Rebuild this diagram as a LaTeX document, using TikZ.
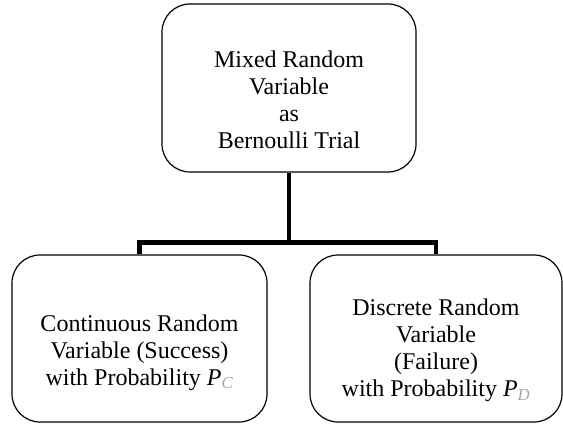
\documentclass[tikz,border=0pt]{standalone}
\usepackage{fontspec}
\setmainfont{Liberation Serif}
\definecolor{subgray}{RGB}{165,165,165}

\begin{document}
\begin{tikzpicture}[x=1pt, y=-1pt,
    box/.style={draw, line width=1.2pt, rounded corners=28pt},
    boxtext/.style={align=center, inner sep=0pt, font=\fontsize{24}{27}\selectfont},
    link/.style={line width=4.5pt, line cap=butt, line join=miter}]
  \useasboundingbox (0,0) rectangle (563,425);
  % P with a pale subscript: #1 = subscript letter
  \newcommand{\probsub}[1]{\textit{P}\textsubscript{\textcolor{subgray}{\textit{#1}}}}

  % the three boxes, centre and size in pixels
  \node[box, minimum width=254pt, minimum height=168pt] (mixed) at (289,88) {};
  \node[box, minimum width=255pt, minimum height=167pt] (cont) at (139.5,338.5) {};
  \node[box, minimum width=252pt, minimum height=167pt] (disc) at (436,338.5) {};

  % texts sit a little below the middle of each box
  \node[boxtext] (mixedtext) at ([yshift=-12pt]mixed.center)
    {Mixed Random\\Variable\\as\\Bernoulli Trial};
  \node[boxtext] (conttext) at ([yshift=-14pt]cont.center)
    {Continuous Random\\Variable (Success)\\with Probability \probsub{C}};
  \node[boxtext] (disctext) at ([yshift=-12pt]disc.center)
    {Discrete Random\\Variable\\(Failure)\\with Probability \probsub{D}};

  % tree connector
  \draw[link] (mixed.south) -- ++(0,70) -| (cont.north);
  \draw[link] (mixed.south) -- ++(0,70) -| (disc.north);
\end{tikzpicture}
\end{document}
